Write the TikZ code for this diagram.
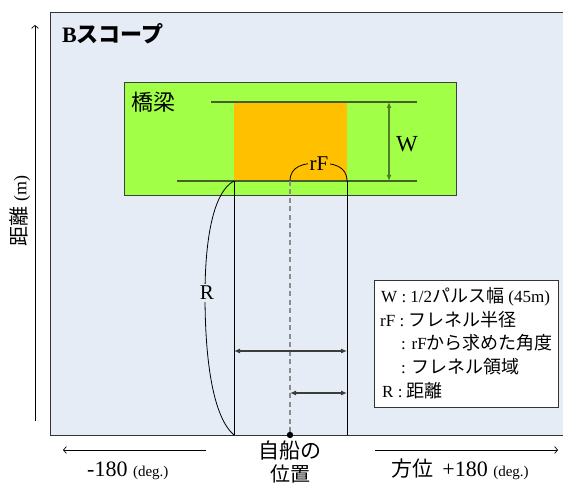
\documentclass[tikz,border=0pt]{standalone}
\usepackage{fontspec}
\setmainfont{Liberation Serif}
\newfontfamily\jp{Noto Sans CJK JP}
\usetikzlibrary{arrows.meta}
\definecolor{bgblue}{RGB}{230,236,246}
\definecolor{bgreen}{RGB}{160,255,70}
\definecolor{orng}{RGB}{255,192,0}
\definecolor{olive}{RGB}{70,95,45}
\definecolor{wgreen}{RGB}{80,125,40}
\definecolor{dimgray}{RGB}{60,60,60}
\begin{document}
\begin{tikzpicture}[x=1pt,y=-1pt,
  axisarrow/.style={draw=black, line width=0.7pt, -{Straight Barb[length=3pt,width=7pt]}},
  dimarrow/.style={draw=dimgray, line width=1.1pt, {Latex[length=6pt,width=5pt]}-{Latex[length=6pt,width=5pt]}},
  edgeline/.style={draw=olive, line width=1.1pt},
  vline/.style={draw=black, line width=0.8pt},
  lbl/.style={inner sep=0pt},
  leg/.style={inner sep=0pt, anchor=base west, font=\fontsize{17}{19}\selectfont}
]
\useasboundingbox (0,0) rectangle (563,486);
% scope background
\draw[fill=bgblue, draw=black!80, line width=0.8pt] (50,12) rectangle (600,435);
\node[lbl, anchor=base west, font=\fontsize{22}{24}\selectfont] (title) at (62,43) {\textbf{B}{\jp\bfseries スコープ}};
% bridge
\draw[fill=bgreen, draw=black!75, line width=0.8pt] (124,82) rectangle (456,195);
\fill[orng] (234,102) rectangle (347,181);
\node[lbl, anchor=west, font=\fontsize{22}{24}\selectfont\jp] (bridge) at (131,102) {橋梁};
\coordinate (t1) at (211,102);
\coordinate (t2) at (417,102);
\coordinate (b1) at (177,181);
\coordinate (b2) at (417,181);
\draw[edgeline] (t1) -- (t2);
\draw[edgeline] (b1) -- (b2);
% W
\coordinate (wt) at (389,102);
\coordinate (wb) at (389,181);
\draw[draw=wgreen, line width=1.3pt, {Latex[length=6pt,width=5pt]}-{Latex[length=6pt,width=5pt]}] (wt) -- (wb);
\node[lbl, font=\fontsize{23}{24}\selectfont] (W) at (407,144) {W};
% vertical lines
\coordinate (la) at (234,181);
\coordinate (lb) at (234,435);
\coordinate (ra) at (347,181);
\coordinate (rb) at (347,435);
\coordinate (ca) at (290,181);
\coordinate (cb) at (290,435);
\draw[vline] (la) -- (lb);
\draw[vline] (ra) -- (rb);
\draw[draw=black!45, line width=1.3pt, dash pattern=on 5pt off 3.5pt] (ca) -- (cb);
% rF arc
\draw[line width=0.8pt] (ca) .. controls (290,166) and (304,163) .. (318.5,163) .. controls (333,163) and (347,166) .. (ra);
\node[fill=orng, inner sep=2pt, font=\fontsize{21}{22}\selectfont] (rF) at (319,164) {rF};
% R curve
\draw[line width=0.8pt] (la) .. controls (213,192) and (205,240) .. (205,295) .. controls (205,365) and (214,418) .. (lb);
\node[fill=bgblue, inner sep=2pt, font=\fontsize{21}{22}\selectfont] (R) at (207,293) {R};
% dimension arrows
\coordinate (d1a) at (234,351);
\coordinate (d1b) at (347,351);
\coordinate (d2a) at (290,393);
\coordinate (d2b) at (347,393);
\draw[dimarrow] (d1a) -- (d1b);
\draw[dimarrow] (d2a) -- (d2b);
% own ship
\fill (cb) circle (3.2pt);
\node[lbl, font=\fontsize{21}{24}\selectfont\jp] (ship1) at (290,451) {自船の};
\node[lbl, font=\fontsize{20}{24}\selectfont\jp] (ship2) at (290,474) {位置};
% axes
\coordinate (ya) at (35,421);
\coordinate (yb) at (35,25);
\draw[axisarrow] (ya) -- (yb);
\node[lbl, rotate=90, font=\fontsize{20}{22}\selectfont] (ylab) at (20,211) {{\jp 距離} {\fontsize{18}{20}\selectfont(m)}};
\coordinate (xla) at (206,450);
\coordinate (xlb) at (63,450);
\coordinate (xra) at (375,450);
\coordinate (xrb) at (558,450);
\draw[axisarrow] (xla) -- (xlb);
\draw[axisarrow] (xra) -- (xrb);
\node[lbl, anchor=base west, font=\fontsize{22}{24}\selectfont] (xl) at (87,477) {-180 {\fontsize{15}{16}\selectfont(deg.)}};
\node[lbl, anchor=base west, font=\fontsize{22}{24}\selectfont] (xr) at (391,477) {{\jp\fontsize{21}{24}\selectfont 方位} \,+180 {\fontsize{15}{16}\selectfont(deg.)}};
% legend
\node[draw=black!80, fill=white, line width=0.8pt, minimum width=184pt, minimum height=127pt, anchor=north west, inner sep=0pt] (legend) at (374,280) {};
\node[leg] (l1) at (381,303) {W : 1/2{\jp\fontsize{18}{20}\selectfont パルス幅} (45m)};
\node[leg] (l2) at (380,327) {rF : {\jp\fontsize{18}{20}\selectfont フレネル半径}};
\node[leg] (l3) at (401,350) {: rF{\jp\fontsize{18}{20}\selectfont から求めた角度}};
\node[leg] (l4) at (401,374) {: {\jp\fontsize{18}{20}\selectfont フレネル領域}};
\node[leg] (l5) at (382,398) {R : {\jp\fontsize{18}{20}\selectfont 距離}};
\end{tikzpicture}
\end{document}
